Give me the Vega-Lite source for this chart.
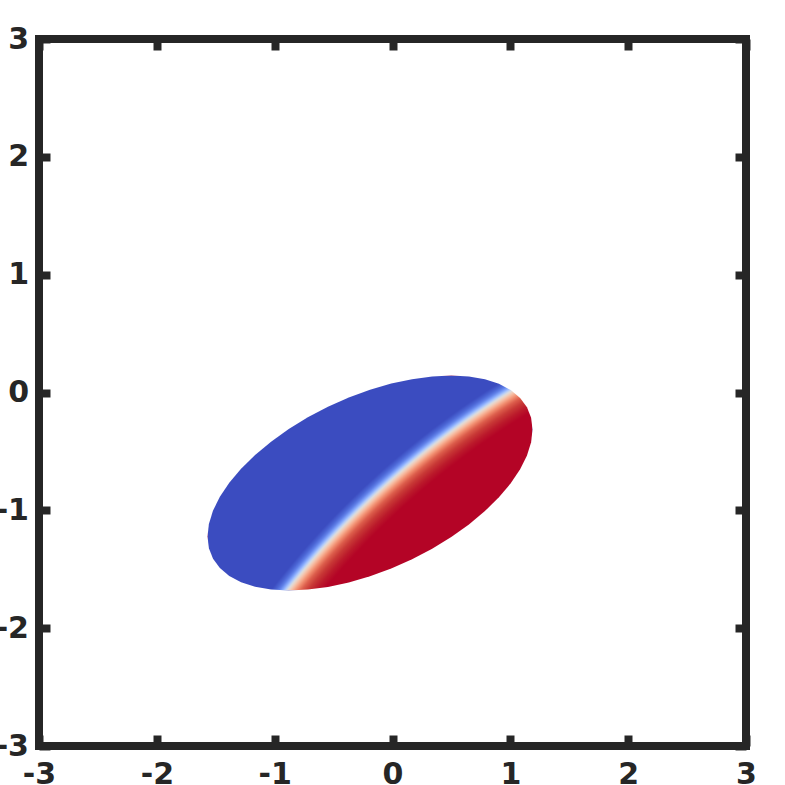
{
  "$schema": "https://vega.github.io/schema/vega-lite/v6.json",
  "width": 707,
  "height": 707,
  "autosize": "none",
  "padding": {"left": 39, "top": 39, "right": 39, "bottom": 39},
  "background": "white",
  "config": {
    "view": {"stroke": "#262626", "strokeWidth": 8},
    "axis": {
      "grid": false, "domain": false, "ticks": true,
      "tickColor": "#262626", "tickWidth": 8, "tickSize": -11,
      "labelFont": "DejaVu Sans", "labelFontWeight": "bold", "labelFontSize": 30,
      "labelColor": "#262626", "labelFlush": false, "labelOverlap": false, "title": null
    }
  },
  "data": {"values": [
    {"x": 1.1882, "ytop": -0.3141, "ybot": -0.3141},
    {"x": 1.1764, "ytop": -0.2148, "ybot": -0.4212},
    {"x": 1.1412, "ytop": -0.1249, "ybot": -0.5343},
    {"x": 1.0832, "ytop": -0.0460, "ybot": -0.6514},
    {"x": 1.0034, "ytop": 0.0206, "ybot": -0.7704},
    {"x": 0.9032, "ytop": 0.0736, "ybot": -0.8894},
    {"x": 0.7843, "ytop": 0.1122, "ybot": -1.0064},
    {"x": 0.6486, "ytop": 0.1358, "ybot": -1.1192},
    {"x": 0.4987, "ytop": 0.1439, "ybot": -1.2261},
    {"x": 0.3369, "ytop": 0.1364, "ybot": -1.3252},
    {"x": 0.1660, "ytop": 0.1135, "ybot": -1.4147},
    {"x": -0.0109, "ytop": 0.0754, "ybot": -1.4930},
    {"x": -0.1909, "ytop": 0.0229, "ybot": -1.5591},
    {"x": -0.3709, "ytop": -0.0432, "ybot": -1.6116},
    {"x": -0.5478, "ytop": -0.1215, "ybot": -1.6497},
    {"x": -0.7187, "ytop": -0.2110, "ybot": -1.6726},
    {"x": -0.8805, "ytop": -0.3101, "ybot": -1.6801},
    {"x": -1.0304, "ytop": -0.4170, "ybot": -1.6720},
    {"x": -1.1661, "ytop": -0.5298, "ybot": -1.6484},
    {"x": -1.2850, "ytop": -0.6468, "ybot": -1.6098},
    {"x": -1.3852, "ytop": -0.7658, "ybot": -1.5568},
    {"x": -1.4650, "ytop": -0.8848, "ybot": -1.4902},
    {"x": -1.5230, "ytop": -1.0019, "ybot": -1.4113},
    {"x": -1.5582, "ytop": -1.1150, "ybot": -1.3214},
    {"x": -1.5700, "ytop": -1.2221, "ybot": -1.2221}
  ]},
  "layer": [
    {
      "mark": {
        "type": "area",
        "color": {
          "gradient": "radial",
          "x1": 2.3018, "y1": 2.4462, "r1": 2.5292,
          "x2": 2.3018, "y2": 2.4462, "r2": 2.6554,
          "stops": [
            {"offset": 0, "color": "#b40426"},
            {"offset": 0.146, "color": "#bb1a2b"},
            {"offset": 0.293, "color": "#c83936"},
            {"offset": 0.415, "color": "#dc5d4b"},
            {"offset": 0.512, "color": "#f18d6f"},
            {"offset": 0.585, "color": "#f7b599"},
            {"offset": 0.634, "color": "#f1cdba"},
            {"offset": 0.683, "color": "#dddddd"},
            {"offset": 0.732, "color": "#b0cafc"},
            {"offset": 0.780, "color": "#85a8fc"},
            {"offset": 0.841, "color": "#6080e8"},
            {"offset": 0.902, "color": "#4c67d6"},
            {"offset": 1, "color": "#3b4cc0"}
          ]
        }
      },
      "encoding": {
        "x": {"field": "x", "type": "quantitative",
              "scale": {"domain": [-3, 3], "nice": false, "zero": false},
              "axis": {"orient": "bottom", "values": [-3, -2, -1, 0, 1, 2, 3], "labelPadding": 24.5, "labelExpr": "toString(datum.value)"}},
        "y": {"field": "ytop", "type": "quantitative", "stack": null,
              "scale": {"domain": [-3, 3], "nice": false, "zero": false},
              "axis": {"orient": "left", "values": [-3, -2, -1, 0, 1, 2, 3], "labelPadding": 21.5, "labelExpr": "toString(datum.value)"}},
        "y2": {"field": "ybot"}
      }
    },
    {
      "mark": {"type": "area", "opacity": 0},
      "encoding": {
        "x": {"field": "x", "type": "quantitative",
              "scale": {"domain": [-3, 3], "nice": false, "zero": false},
              "axis": {"orient": "top", "values": [-3, -2, -1, 0, 1, 2, 3], "labels": false}},
        "y": {"field": "ytop", "type": "quantitative", "stack": null,
              "scale": {"domain": [-3, 3], "nice": false, "zero": false},
              "axis": {"orient": "right", "values": [-3, -2, -1, 0, 1, 2, 3], "labels": false}},
        "y2": {"field": "ybot"}
      }
    }
  ],
  "resolve": {"axis": {"x": "independent", "y": "independent"}}
}
